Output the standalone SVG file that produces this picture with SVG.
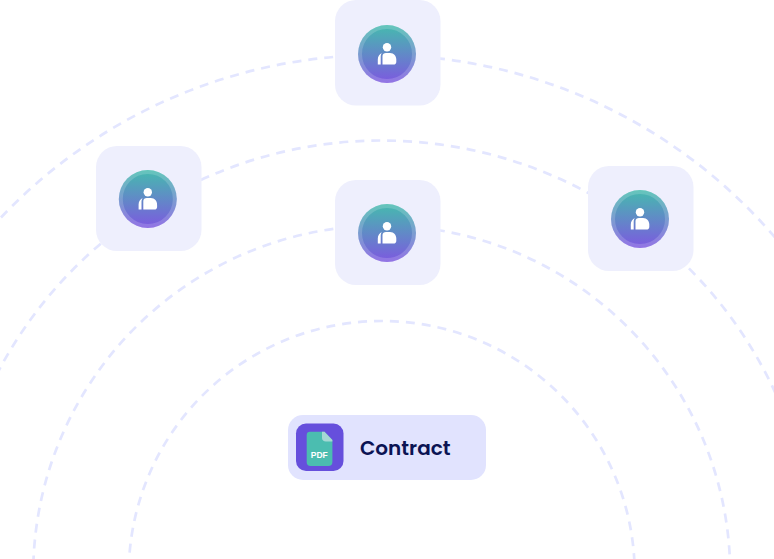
<svg xmlns="http://www.w3.org/2000/svg" width="774" height="559" viewBox="0 0 774 559">
<defs>
<style>
.ring{fill:none;stroke:#e3e6ff;stroke-width:2.700;stroke-dasharray:9 7}
.card{fill:#eeeffd}
.disc{fill:url(#gd)}
.halo{fill:none;stroke:#fff;stroke-opacity:.17;stroke-width:4}
.w{fill:#fff}
text{font-family:Poppins,"Inter","Liberation Sans",sans-serif}
</style>
<linearGradient id="gd" x1="0" y1="0" x2="0" y2="1"><stop offset="0" stop-color="#45bbae"/><stop offset="1" stop-color="#7d58e0"/></linearGradient>
<g id="user">
<circle class="disc" r="29"/>
<circle class="halo" r="27"/>
<circle class="w" cx="0" cy="-6.700" r="4.200"/>
<path class="w" d="M-4.500 10.600V2C-4.500 0 -3 -1 -1 -1H3C7 -1 9.300 2 9.300 6V8C9.300 9.600 8 10.600 6.500 10.600Z"/>
<path class="w" d="M-9.200 10.600V5.500C-9.200 2.500 -7.500 0 -5 -1C-6 0 -6.300 1.500 -6.300 3V10.600Z"/>
</g>
</defs>
<rect width="774" height="559" fill="#fff"/>
<g id="connectors">
<circle class="ring" cx="381.700" cy="574" r="253"/>
<circle class="ring" cx="381.700" cy="574" r="348.500"/>
<circle class="ring" cx="381.500" cy="574" r="433.500"/>
<circle class="ring" cx="379" cy="576" r="521"/>
</g>
<g id="node-top"><rect class="card" x="335" y="0" width="105.500" height="105.500" rx="21"/><use href="#user" x="387" y="54"/></g>
<g id="node-left"><rect class="card" x="96" y="146" width="105.500" height="105" rx="21"/><use href="#user" x="147.800" y="199"/></g>
<g id="node-center"><rect class="card" x="335" y="180" width="105.500" height="105" rx="21"/><use href="#user" x="387" y="233"/></g>
<g id="node-right"><rect class="card" x="588" y="166" width="105.500" height="105" rx="21"/><use href="#user" x="640" y="219"/></g>
<g id="node-contract">
<rect x="288" y="415" width="198" height="65" rx="15" fill="#e1e3fe"/>
<rect x="296" y="423.500" width="47.500" height="47.500" rx="10" fill="#664fdc"/>
<path d="M310 431.700H324.500L332.400 440V462C332.400 464.500 331 466 328.500 466H310.500C308 466 306.700 464.500 306.700 462V435C306.700 432.800 308 431.700 310 431.700Z" fill="#4bbdb0"/>
<path d="M322 431.700H324.500L332.400 440V441.500H326C323.500 441.500 322 440 322 438Z" fill="#a6d8d4"/>
<text x="319.300" y="457.500" font-size="8.500" font-weight="700" fill="#fff" text-anchor="middle" style="font-family:'Liberation Sans',sans-serif">PDF</text>
<text x="360" y="455" font-size="20" font-weight="600" fill="#0b1354">Contract</text>
</g>
</svg>
